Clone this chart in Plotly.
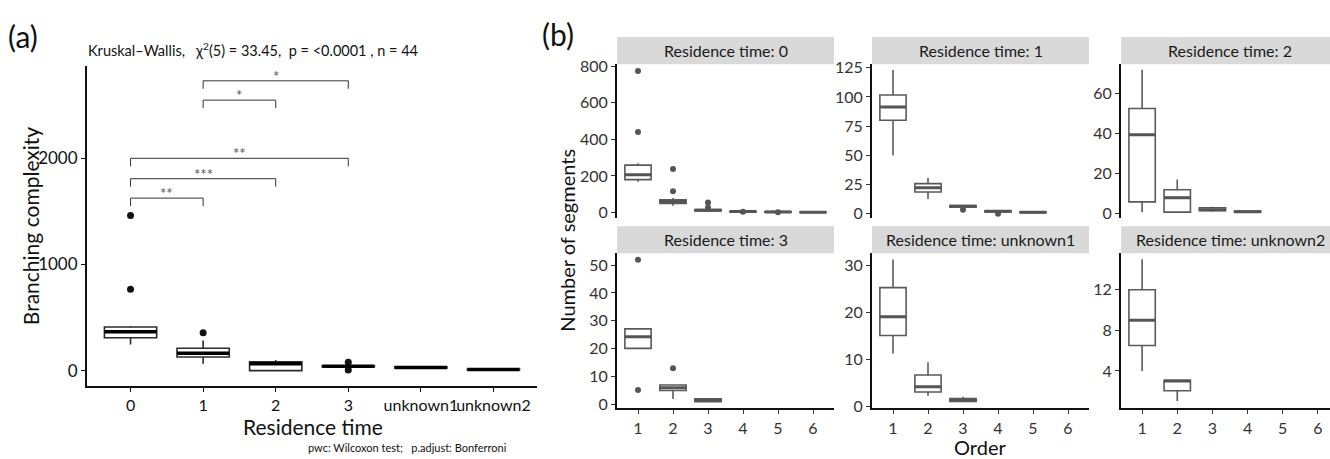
import plotly.graph_objects as go

W, H = 1330, 459
FONT = "Lato"

# ---------------- Panel (a) data ----------------
a_cats = ["0", "1", "2", "3", "unknown1", "unknown2"]
a_q1 = [310, 128, 0, 36, 26, 8]
a_med = [365, 164, 64, 40, 30, 10]
a_q3 = [411, 210, 82, 44, 34, 12]
a_lo = [247, 64, 0, 30, 22, 5]
a_hi = [420, 283, 100, 50, 38, 14]
a_out_x = [0, 0, 1, 3, 3]
a_out_y = [1461, 767, 356, 78, 5]
a_yticks = [0, 1000, 2000]

pair_from = [0, 0, 0, 1, 1]
pair_to = [1, 2, 3, 2, 3]
pair_lab = ["**", "***", "**", "*", "*"]
pair_y = [1625, 1808, 2000, 2548, 2730]
tip_len = 75

# ---------------- Panel (b) data ----------------
facet_titles = ["Residence time: 0", "Residence time: 1", "Residence time: 2",
                "Residence time: 3", "Residence time: unknown1", "Residence time: unknown2"]
b_q1 = [[180, 50, 8, 3, 2, 1], [80, 18.6, 5.5, 1.6, 0.8], [5.9, 0.8, 1.5, 0.8],
        [20.1, 5, 1], [15.0, 3.0, 1.0], [6.5, 2.04]]
b_med = [[206, 60, 12, 5, 3, 2], [91.4, 22.2, 6.4, 2, 1.2], [39.2, 8, 2, 1],
         [24.3, 6, 1.5], [19, 4.1, 1.2], [9, 3]]
b_q3 = [[259, 70, 16, 7, 5, 3], [101.7, 25.8, 7, 2.4, 1.5], [52.3, 11.9, 3, 1.4],
        [27.1, 7, 2], [25.2, 6.6, 1.6], [12, 3.07]]
b_lo = [[169, 37, 3, 1, 1, 1], [50, 12.5, 5.5, 1.6, 0.8], [0.8, 0.8, 1, 0.8],
        [20.1, 2, 1], [11.2, 2.2, 1.0], [4, 1.03]]
b_hi = [[270, 80, 20, 8, 6, 4], [123, 30.6, 7, 2.4, 1.5], [71.5, 17, 3.5, 1.4],
        [27.1, 7, 2], [31.2, 9.3, 2.0], [15, 3.07]]
b_out_x = [[1, 1, 2, 2, 3, 3, 4, 5], [3, 4], [], [1, 1, 2], [], []]
b_out_y = [[774, 441, 238, 116, 55, 28, 4, 2], [3.3, 0], [], [51.9, 5.2, 13], [], []]
b_yticks = [[0, 200, 400, 600, 800], [0, 25, 50, 75, 100, 125], [0, 20, 40, 60],
            [0, 10, 20, 30, 40, 50], [0, 10, 20, 30], [4, 8, 12]]
b_yrange = [[-32, 811], [-4, 128], [-2.3, 74.3], [-1.4, 54.2], [-0.5, 32.5], [0.3, 15.6]]
orders = [1, 2, 3, 4, 5, 6]

# ---------------- layout helpers ----------------
def px_x(p):
    return p / W


def px_y(p):
    return 1 - p / H


fig = go.Figure()
shapes = []
annos = []

# Panel (a)
fig.add_trace(go.Box(
    x=list(range(len(a_cats))), q1=a_q1, median=a_med, q3=a_q3,
    lowerfence=a_lo, upperfence=a_hi, width=0.72, whiskerwidth=0,
    boxpoints=False, fillcolor="white",
    line=dict(color="#2b2b2b", width=1.6),
    xaxis="x", yaxis="y", showlegend=False, hoverinfo="skip"))
fig.add_trace(go.Scatter(
    x=a_out_x, y=a_out_y, mode="markers",
    marker=dict(color="#111111", size=7), xaxis="x", yaxis="y",
    showlegend=False, hoverinfo="skip"))
for i, m in enumerate(a_med):
    shapes.append(dict(type="line", xref="x", yref="y", x0=i - 0.36, x1=i + 0.36,
                       y0=m, y1=m, line=dict(color="#000000", width=3.5)))
for f, t, lab, yv in zip(pair_from, pair_to, pair_lab, pair_y):
    shapes.append(dict(type="path", xref="x", yref="y",
                       path=f"M {f},{yv - tip_len} L {f},{yv} L {t},{yv} L {t},{yv - tip_len}",
                       line=dict(color="#333333", width=1)))
    annos.append(dict(x=(f + t) / 2, y=yv, xref="x", yref="y", text=lab,
                      showarrow=False, yanchor="bottom", yshift=-6,
                      font=dict(family=FONT, size=15, color="#555555")))

layout_axes = {}
layout_axes["xaxis"] = dict(
    domain=[px_x(87), px_x(537)], range=[-0.6, 5.6],
    tickvals=list(range(len(a_cats))), ticktext=a_cats, tickangle=0,
    showline=True, linecolor="#111111", linewidth=2, ticks="outside",
    ticklen=4, tickcolor="#111111", tickwidth=1, showgrid=False, zeroline=False,
    tickfont=dict(family=FONT, size=16, color="#111111"), anchor="y")
layout_axes["yaxis"] = dict(
    domain=[px_y(390), px_y(60)], range=[-146, 2868], tickvals=a_yticks,
    showline=True, linecolor="#111111", linewidth=2, ticks="outside",
    ticklen=4, tickcolor="#111111", tickwidth=1, showgrid=False, zeroline=False,
    tickfont=dict(family=FONT, size=17, color="#111111"), anchor="x")

# Panel (b)
col_px = [(617, 834), (872, 1089), (1121, 1339)]
row_px = [(58, 217), (253, 413)]
strip_px = [(30, 58), (225, 253)]

for k in range(6):
    r, c = divmod(k, 3)
    ax_n = k + 2
    xa, ya = f"x{ax_n}", f"y{ax_n}"
    n = len(b_med[k])
    xs = orders[:n]
    fig.add_trace(go.Box(
        x=xs, q1=b_q1[k], median=b_med[k], q3=b_q3[k],
        lowerfence=b_lo[k], upperfence=b_hi[k], width=0.75, whiskerwidth=0,
        boxpoints=False, fillcolor="white",
        line=dict(color="#5a5a5a", width=1.6),
        xaxis=xa, yaxis=ya, showlegend=False, hoverinfo="skip"))
    if b_out_x[k]:
        fig.add_trace(go.Scatter(
            x=b_out_x[k], y=b_out_y[k], mode="markers",
            marker=dict(color="#555555", size=6), xaxis=xa, yaxis=ya,
            showlegend=False, hoverinfo="skip"))
    for xv, m in zip(xs, b_med[k]):
        shapes.append(dict(type="line", xref=xa, yref=ya, x0=xv - 0.375, x1=xv + 0.375,
                           y0=m, y1=m, line=dict(color="#555555", width=3)))
    x0p, x1p = col_px[c]
    ppu = (x1p - x0p) / 6.2
    right_px = min(x1p, W)
    xr_hi = 0.4 + (right_px - x0p) / ppu
    y0p, y1p = row_px[r]
    layout_axes[f"xaxis{ax_n}"] = dict(
        domain=[px_x(x0p), px_x(right_px)], range=[0.4, xr_hi],
        tickvals=orders, ticktext=[str(o) for o in orders], tickangle=0,
        showline=(r == 1), linecolor="#111111", linewidth=2,
        ticks="outside" if r == 1 else "", ticklen=4, tickcolor="#333333",
        showticklabels=(r == 1), showgrid=False, zeroline=False,
        tickfont=dict(family=FONT, size=16, color="#333333"), anchor=ya)
    layout_axes[f"yaxis{ax_n}"] = dict(
        domain=[px_y(y1p), px_y(y0p)], range=b_yrange[k], tickvals=b_yticks[k],
        showline=True, linecolor="#111111", linewidth=2, ticks="outside",
        ticklen=4, tickcolor="#333333", showgrid=False, zeroline=False,
        tickfont=dict(family=FONT, size=16, color="#333333"), anchor=xa)
    s0, s1 = strip_px[r]
    shapes.append(dict(type="rect", xref="paper", yref="paper",
                       x0=px_x(x0p), x1=px_x(right_px), y0=px_y(s1), y1=px_y(s0),
                       fillcolor="#d9d9d9", line=dict(width=0), layer="below"))
    annos.append(dict(x=px_x((x0p + x1p) / 2), y=px_y((s0 + s1) / 2),
                      xref="paper", yref="paper", text=facet_titles[k], showarrow=False,
                      xanchor="center", yanchor="middle",
                      font=dict(family=FONT, size=16, color="#1a1a1a")))

# Text annotations
def txt(x, y, text, size, xanchor="center", yanchor="middle", angle=0, color="#111111"):
    annos.append(dict(x=px_x(x), y=px_y(y), xref="paper", yref="paper", text=text,
                      showarrow=False, xanchor=xanchor, yanchor=yanchor, textangle=angle,
                      font=dict(family=FONT, size=size, color=color)))

txt(6, 29, "(a)", 30, xanchor="left")
txt(540, 27, "(b)", 30, xanchor="left")
txt(86, 43, "Kruskal\u2013Wallis,   \u03c7<sup>2</sup>(5) = 33.45,  p = <0.0001 , n = 44", 14.5,
    xanchor="left")
txt(30, 225, "Branching complexity", 21, angle=-90)
txt(313, 432, "Residence time", 21)
txt(306, 453, "pwc: Wilcoxon test;   p.adjust: Bonferroni", 11, xanchor="left")
txt(567, 240, "Number of segments", 20, angle=-90)
txt(980, 453, "Order", 20)

fig.update_layout(
    width=W, height=H, margin=dict(l=0, r=0, t=0, b=0),
    paper_bgcolor="white", plot_bgcolor="white",
    shapes=shapes, annotations=annos, showlegend=False,
    font=dict(family=FONT), **layout_axes)

fig.write_html("out.html")
